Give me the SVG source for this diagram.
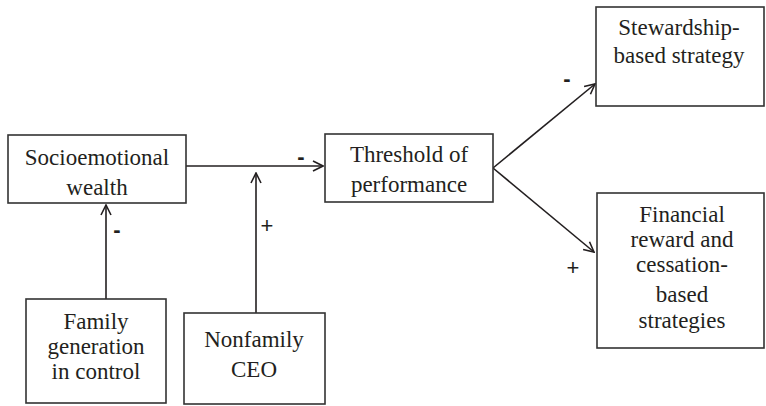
<svg xmlns="http://www.w3.org/2000/svg" width="766" height="406" viewBox="0 0 766 406">
<defs>
<style>
.box{fill:#fff;stroke:#333;stroke-width:1.6}
.t{font-family:"Liberation Serif","Times New Roman",serif;font-size:23px;fill:#231f20;text-anchor:middle}
.lbl{font-family:"Liberation Sans",Arial,sans-serif;font-size:22px;fill:#231f20;text-anchor:middle}
.m{font-weight:bold}
.c{fill:none;stroke:#231f20;stroke-width:1.6}
</style>
<marker id="ah" viewBox="0 0 12 12" refX="11" refY="6" markerWidth="12" markerHeight="12" markerUnits="userSpaceOnUse" orient="auto">
<path d="M1,1 L11,6 L1,11" fill="none" stroke="#231f20" stroke-width="1.6"/>
</marker>
</defs>
<rect width="766" height="406" fill="#fff"/>
<g id="connectors">
<line class="c" x1="186" y1="166" x2="323" y2="166" marker-end="url(#ah)"/>
<line class="c" x1="106" y1="299" x2="106" y2="205" marker-end="url(#ah)"/>
<line class="c" x1="256" y1="313" x2="256" y2="173" marker-end="url(#ah)"/>
<line class="c" x1="493" y1="168" x2="595" y2="84" marker-end="url(#ah)"/>
<line class="c" x1="493" y1="168" x2="594" y2="252" marker-end="url(#ah)"/>
<text class="lbl m" x="301" y="164">-</text>
<text class="lbl m" x="117" y="237">-</text>
<text class="lbl" x="267" y="233">+</text>
<text class="lbl m" x="567" y="86">-</text>
<text class="lbl" x="573" y="275">+</text>
</g>
<g id="socioemotional">
<rect class="box" x="8" y="135" width="178" height="68"/>
<text class="t" x="97" y="165">Socioemotional</text>
<text class="t" x="97" y="195">wealth</text>
</g>
<g id="threshold">
<rect class="box" x="325" y="134" width="168" height="68"/>
<text class="t" x="409" y="162">Threshold of</text>
<text class="t" x="409" y="192">performance</text>
</g>
<g id="stewardship">
<rect class="box" x="596" y="7" width="168" height="99"/>
<text class="t" x="679" y="35">Stewardship-</text>
<text class="t" x="679" y="63">based strategy</text>
</g>
<g id="financial">
<rect class="box" x="597" y="193" width="167" height="155"/>
<text class="t" x="682" y="222">Financial</text>
<text class="t" x="682" y="247">reward and</text>
<text class="t" x="682" y="272">cessation-</text>
<text class="t" x="682" y="302">based</text>
<text class="t" x="682" y="328">strategies</text>
</g>
<g id="family">
<rect class="box" x="26" y="299" width="140" height="104"/>
<text class="t" x="96" y="329">Family</text>
<text class="t" x="96" y="354">generation</text>
<text class="t" x="96" y="379">in control</text>
</g>
<g id="nonfamily">
<rect class="box" x="184" y="313" width="141" height="91"/>
<text class="t" x="254" y="347">Nonfamily</text>
<text class="t" x="254" y="377">CEO</text>
</g>
</svg>
